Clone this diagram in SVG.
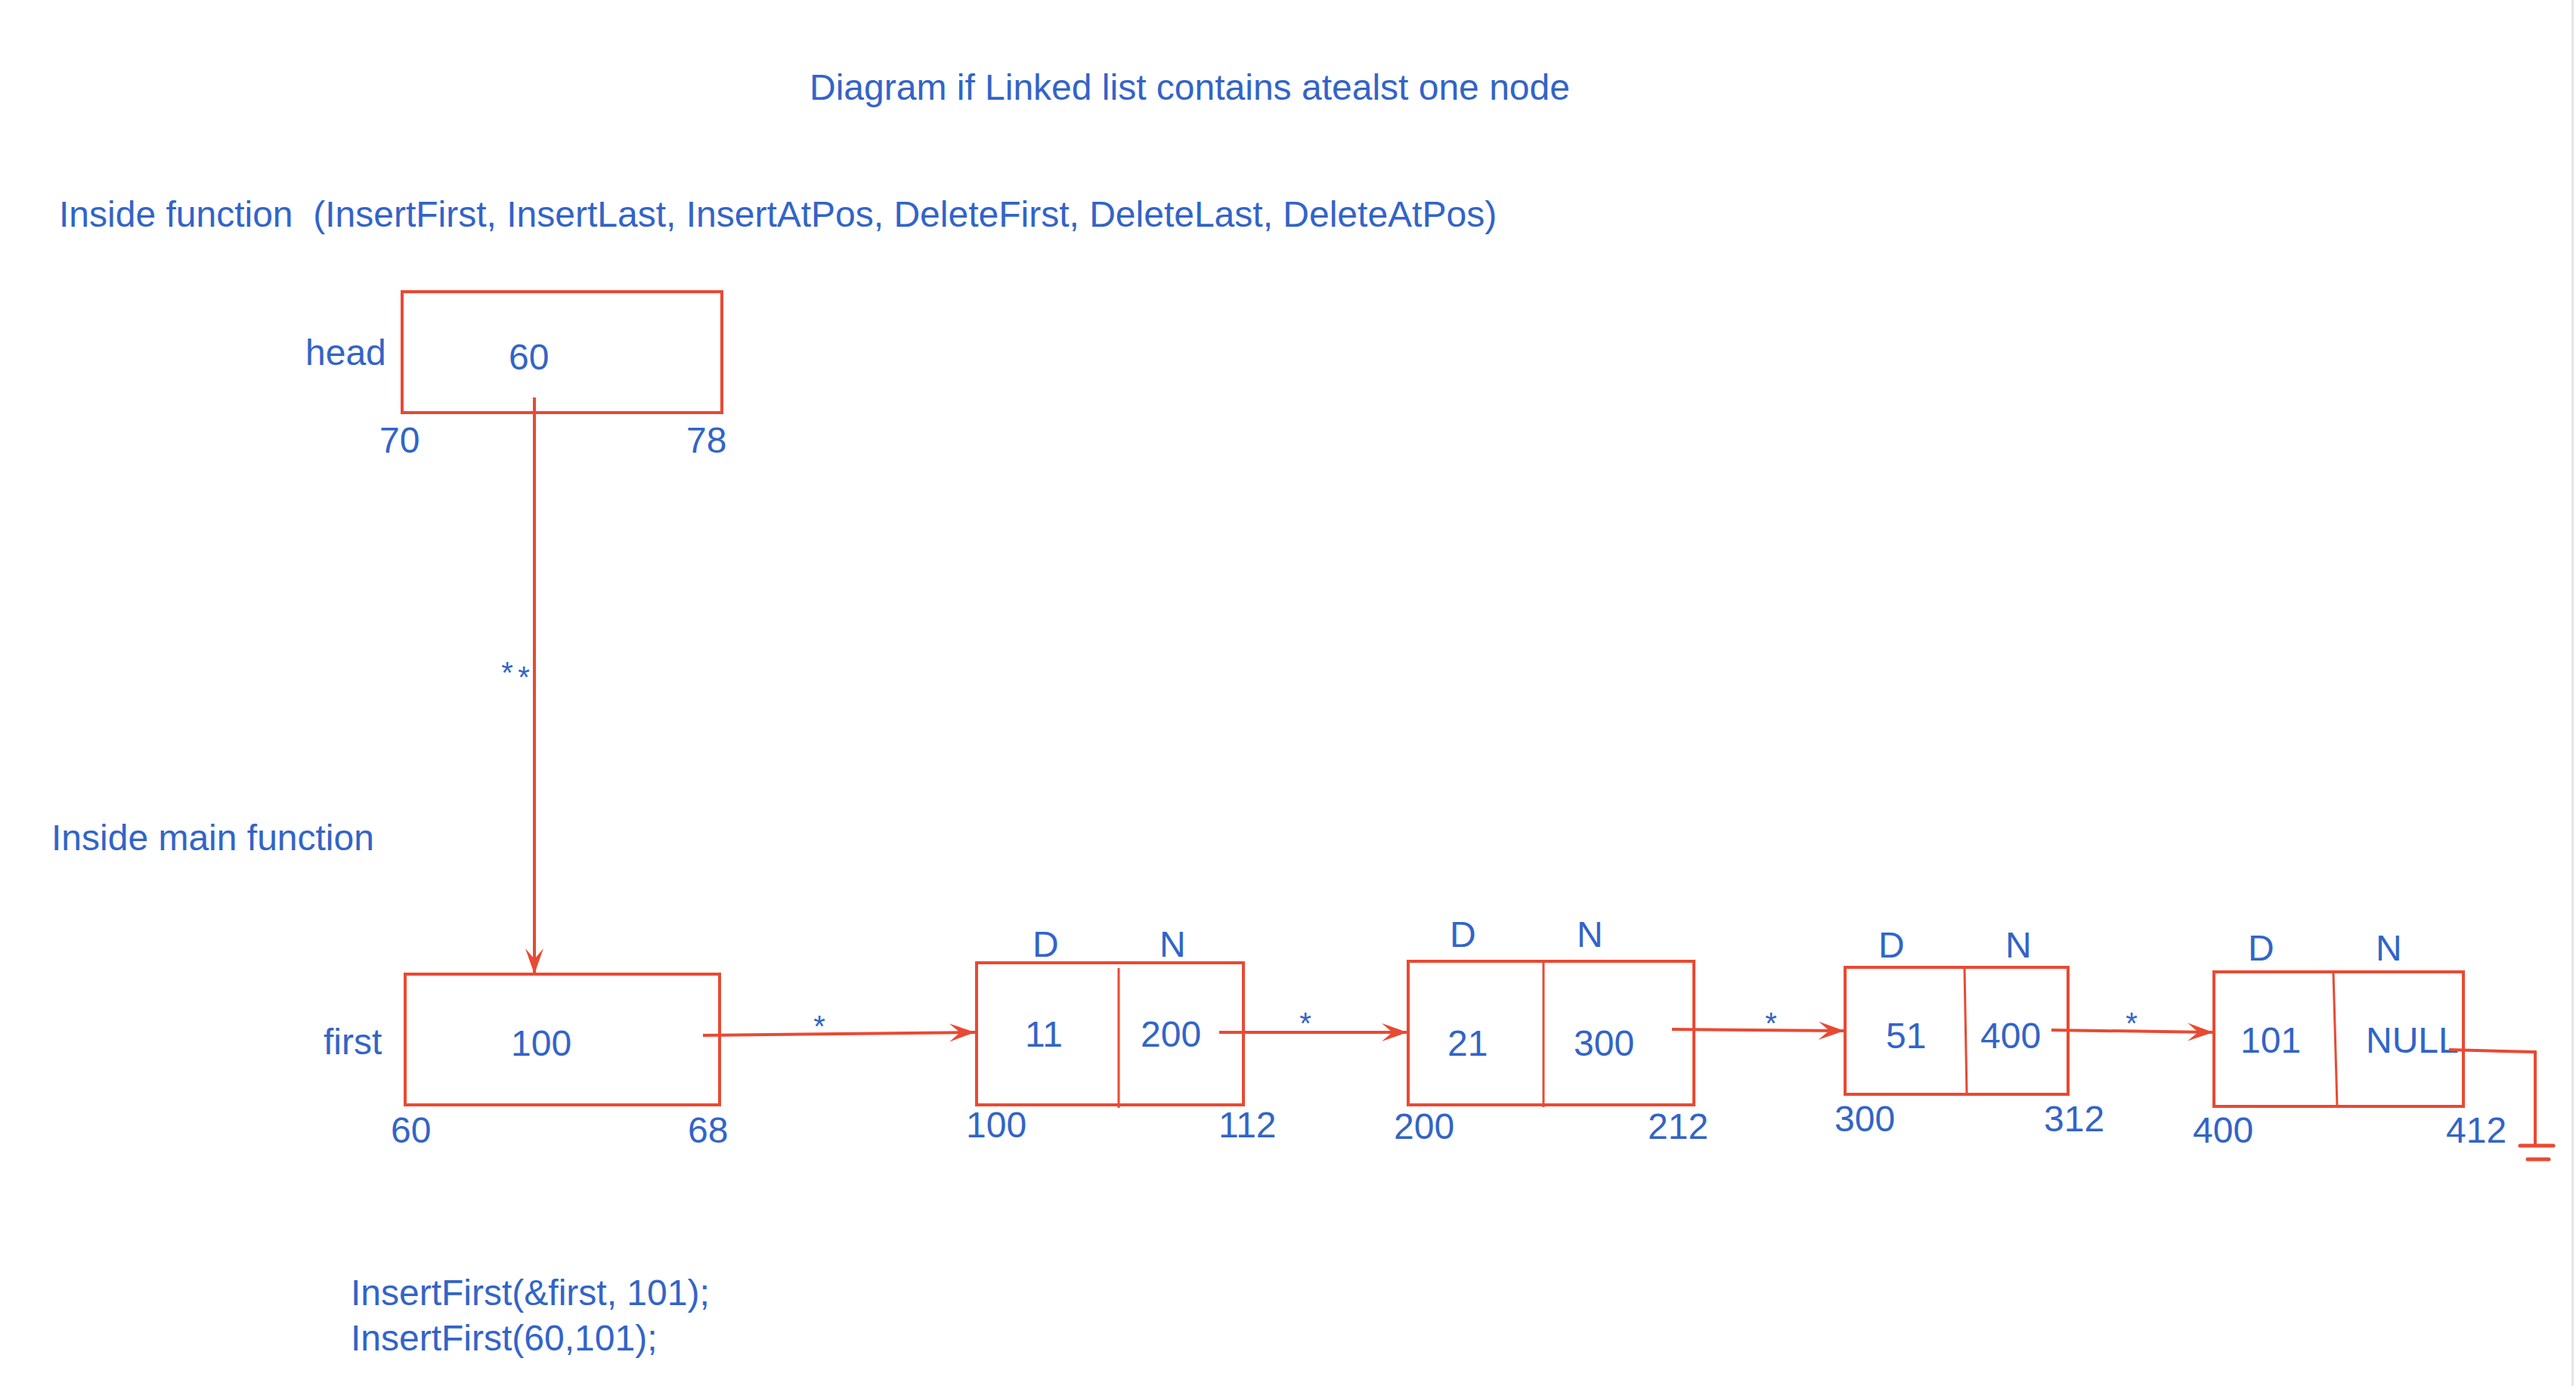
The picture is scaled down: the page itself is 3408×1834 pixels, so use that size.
<svg xmlns="http://www.w3.org/2000/svg" width="3408" height="1834" viewBox="0 0 3408 1834">
<style>
text{font-family:"Liberation Sans",Arial,Helvetica,sans-serif;font-size:48px;fill:#3264c8}
.ast{font-size:40px;text-anchor:middle}
.box{fill:none;stroke:#e84a33;stroke-width:4}
.div{stroke:#e84a33;stroke-width:3}
.con{fill:none;stroke:#e84a33;stroke-width:4}
.gnd{stroke:#e84a33;stroke-width:5;stroke-linecap:round}
</style>
<defs>
<marker id="arr" markerUnits="userSpaceOnUse" markerWidth="36" markerHeight="28" refX="34" refY="13" orient="auto" viewBox="0 0 36 28">
<path d="M0,1 L34,13 L0,25 L14,13 Z" fill="#e84a33"/>
</marker>
</defs>
<rect x="0" y="0" width="3408" height="1834" fill="#ffffff"/>
<rect x="3402" y="0" width="3" height="1834" fill="#e6e6e6"/>

<g id="labels">
<text x="1071" y="132">Diagram if Linked list contains atealst one node</text>
<text x="78" y="300">Inside function&#160; (InsertFirst, InsertLast, InsertAtPos, DeleteFirst, DeleteLast, DeleteAtPos)</text>
<text x="68" y="1125">Inside main function</text>
<text x="464" y="1727">InsertFirst(&amp;first, 101);</text>
<text x="464" y="1787">InsertFirst(60,101);</text>
</g>

<g id="head">
<text x="404" y="483">head</text>
<rect class="box" x="532" y="386" width="423" height="160"/>
<text x="673" y="489">60</text>
<text x="502" y="599">70</text>
<text x="908" y="599">78</text>
</g>

<g id="first">
<text x="428" y="1395">first</text>
<rect class="box" x="536" y="1289" width="416" height="173"/>
<text x="676" y="1397">100</text>
<text x="517" y="1512">60</text>
<text x="910" y="1512">68</text>
</g>

<g id="node1">
<rect class="box" x="1292" y="1274" width="353" height="188"/>
<line class="div" x1="1480" y1="1281" x2="1480" y2="1466"/>
<text x="1366" y="1266">D</text>
<text x="1534" y="1266">N</text>
<text x="1356" y="1385">11</text>
<text x="1509" y="1385">200</text>
<text x="1278" y="1505">100</text>
<text x="1612" y="1505">112</text>
</g>

<g id="node2">
<rect class="box" x="1863" y="1272" width="378" height="190"/>
<line class="div" x1="2042" y1="1274" x2="2042" y2="1465"/>
<text x="1918" y="1253">D</text>
<text x="2086" y="1253">N</text>
<text x="1915" y="1397">21</text>
<text x="2082" y="1397">300</text>
<text x="1844" y="1507">200</text>
<text x="2180" y="1507">212</text>
</g>

<g id="node3">
<rect class="box" x="2441" y="1280" width="295" height="168"/>
<line class="div" x1="2599" y1="1282" x2="2602" y2="1448"/>
<text x="2485" y="1267">D</text>
<text x="2653" y="1267">N</text>
<text x="2495" y="1387">51</text>
<text x="2620" y="1387">400</text>
<text x="2427" y="1497">300</text>
<text x="2704" y="1497">312</text>
</g>

<g id="node4">
<rect class="box" x="2929" y="1286" width="330" height="178"/>
<line class="div" x1="3087" y1="1288" x2="3092" y2="1464"/>
<text x="2974" y="1271">D</text>
<text x="3143" y="1271">N</text>
<text x="2964" y="1393">101</text>
<text x="3130" y="1393">NULL</text>
<text x="2901" y="1512">400</text>
<text x="3236" y="1512">412</text>
</g>

<g id="connectors">
<line class="con" x1="707" y1="526" x2="707" y2="1289" marker-end="url(#arr)"/>
<text class="ast" x="671" y="904">*</text>
<text class="ast" x="693" y="910">*</text>
<line class="con" x1="930" y1="1370" x2="1290" y2="1366" marker-end="url(#arr)"/>
<text class="ast" x="1084" y="1372">*</text>
<line class="con" x1="1613" y1="1366" x2="1862" y2="1366" marker-end="url(#arr)"/>
<text class="ast" x="1727" y="1368">*</text>
<line class="con" x1="2212" y1="1362" x2="2440" y2="1364" marker-end="url(#arr)"/>
<text class="ast" x="2343" y="1368">*</text>
<line class="con" x1="2714" y1="1363" x2="2928" y2="1366" marker-end="url(#arr)"/>
<text class="ast" x="2820" y="1368">*</text>
<polyline class="con" points="3240,1389 3354,1392 3354,1514"/>
<line class="gnd" x1="3334" y1="1516" x2="3378" y2="1516"/>
<line class="gnd" x1="3344" y1="1534" x2="3372" y2="1534"/>
</g>
</svg>
